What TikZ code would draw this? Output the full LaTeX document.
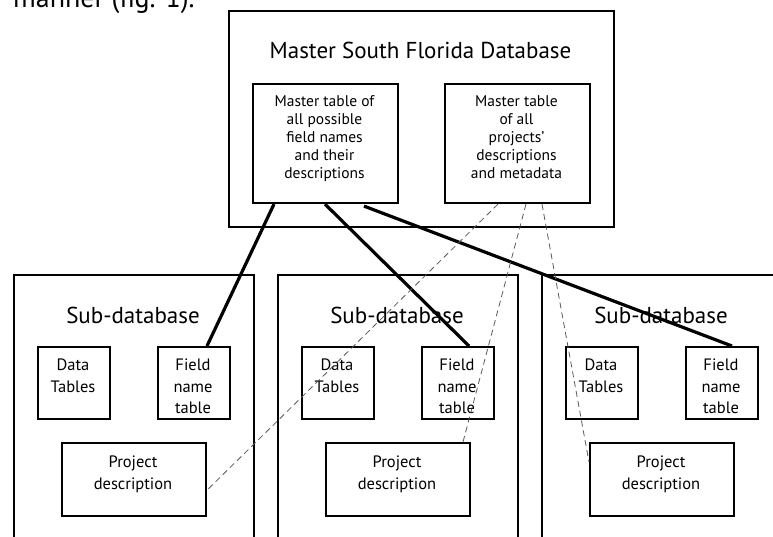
\documentclass[tikz,border=0pt]{standalone}
\usepackage{fontspec}
\setmainfont{PT Sans}
\usetikzlibrary{calc}
\begin{document}
\begin{tikzpicture}[x=1pt,y=-1pt,
  box/.style={draw, line width=2.1pt, inner sep=0pt, anchor=north west},
  thickline/.style={line width=3.2pt},
  dashline/.style={draw=black!65, line width=0.8pt, dash pattern=on 6pt off 4pt},
  title/.style={font=\fontsize{23}{26}\selectfont, anchor=base, inner sep=0pt},
  mtxt/.style={font=\fontsize{15.5}{18}\selectfont, align=center, anchor=north, inner sep=0pt},
  stxt/.style={font=\fontsize{16.5}{21.7}\selectfont, align=center, anchor=north, inner sep=0pt},
]
\useasboundingbox (0,0) rectangle (773,536);
\clip (0,0) rectangle (773,536);

\node[anchor=base west, inner sep=0pt, font=\fontsize{28}{30}\selectfont] (intro) at (13,7) {manner (fig. 1).};

\node[box, minimum width=385pt, minimum height=216pt] (master) at (228,10) {};
\node[title] (mtitle) at (420.5,58) {Master South Florida Database};
\node[box, minimum width=145pt, minimum height=119pt] (mf) at (252,83) {};
\node[box, minimum width=145pt, minimum height=119pt] (mp) at (444,83) {};
\node[mtxt] (mftext) at (324.5,95.5) {Master table of\\all possible\\field names\\and their\\descriptions};
\node[mtxt] (mptext) at (516.5,95.5) {Master table\\of all\\projects’\\descriptions\\and metadata};

\foreach \i/\d in {1/0,2/264,3/528}{
  \node[box, minimum width=240pt, minimum height=290pt] (sub\i) at (13+\d,274) {};
  \node[title] (subt\i) at (133+\d,323) {Sub-database};
  \node[box, minimum width=72pt, minimum height=72pt] (data\i) at (37+\d,346) {};
  \node[box, minimum width=72pt, minimum height=72pt] (field\i) at (157+\d,346) {};
  \node[box, minimum width=144pt, minimum height=73pt] (proj\i) at (61+\d,442) {};
  \node[stxt] (datat\i) at (73+\d,358.5) {Data\\Tables};
  \node[stxt] (fieldt\i) at (193+\d,358.5) {Field\\name\\table};
  \node[stxt] (projt\i) at (133+\d,455.5) {Project\\description};
}

\draw[thickline] ($(mf.south west)+(22,0)$) -- ($(field1.north west)+(50,0)$);
\draw[thickline] ($(mf.south west)+(73,0)$) -- ($(field2.north west)+(48,0)$);
\draw[thickline] ($(mf.south west)+(112,2)$) -- ($(field3.north west)+(47,0)$);

\draw[dashline] ($(mp.south west)+(54,0)$) -- ($(proj1.south east)+(0,-27)$);
\draw[dashline] ($(mp.south west)+(82,0)$) -- ($(proj2.north west)+(138,0)$);
\draw[dashline] ($(mp.south west)+(98,0)$) -- ($(proj3.north west)+(0,20)$);
\end{tikzpicture}
\end{document}
